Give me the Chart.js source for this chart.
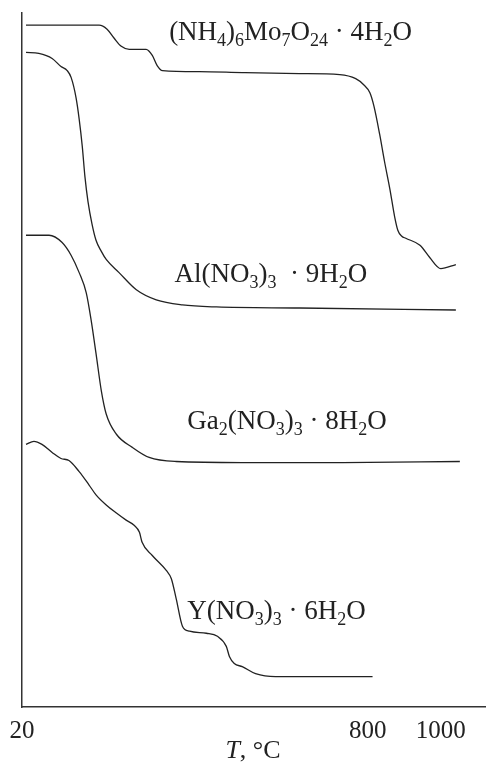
<!DOCTYPE html>
<html>
<head>
<meta charset="utf-8">
<script src="https://cdn.jsdelivr.net/npm/chart.js@4.4.1/dist/chart.umd.min.js"></script>
<style>
html,body{margin:0;padding:0;background:#fff;}
#wrap{width:486px;height:764px;position:relative;}
</style>
</head>
<body>
<div id="wrap"><canvas id="c" width="486" height="764"></canvas></div>
<script>
// Temperature axis tick values (positions on the drawn axis) and their printed labels
const xTickPositions = [20, 800, 965];
const xTickLabels = ['20', '800', '1000'];

// Curve names (with subscript markup _n)
const seriesNames = [
  '(NH_4)_6Mo_7O_24 · 4H_2O',
  'Al(NO_3)_3  · 9H_2O',
  'Ga_2(NO_3)_3 · 8H_2O',
  'Y(NO_3)_3 · 6H_2O'
];

// Curve 1: (NH4)6Mo7O24·4H2O
const moT = [29,194,212,228,244,262,300,314,325,337,420,517,646,737,773,791,805,814,827,838,850,861,868,877,886,918,940,965,999];
const moY = [675,675,671,662,654,651,651,645,635,630,629,628,627,626,622,616,608,595,567,540,513,485,472,466,464,457,445,434,438];

// Curve 2: Al(NO3)3·9H2O
const alT = [29,58,88,108,122,131,142,149,156,162,169,178,187,199,210,239,278,323,382,459,646,999];
const alY = [648,647,642,634,630,623,603,582,555,525,500,478,462,451,443,430,413,403,398,396,395,393];

// Curve 3: Ga2(NO3)3·8H2O
const gaT = [29,81,110,131,149,165,176,187,199,210,233,269,307,368,517,744,1008];
const gaY = [467,467,460,447,430,410,383,350,313,290,270,257,247,243,242,242,243];

// Curve 4: Y(NO3)3·6H2O
const yT = [29,47,65,88,108,126,149,171,187,210,233,255,273,285,291,314,346,357,368,382,398,436,461,481,488,499,517,547,592,811];
const yY = [260,263,260,252,246,244,233,220,210,200,192,185,180,173,163,150,135,127,107,80,75,73,70,60,50,43,40,33,30,30];

function pts(xs, ys){ return xs.map((x,i)=>({x:x, y:ys[i]})); }

const curveLabels = [
  {text: seriesNames[0], x: 352, y: 660},
  {text: seriesNames[1], x: 364, y: 421},
  {text: seriesNames[2], x: 393, y: 275},
  {text: seriesNames[3], x: 393, y: 87}
];

const SERIF = '"Liberation Serif", "Times New Roman", serif';

function drawRich(ctx, str, x, y, size){
  const parts = [];
  const re = /_(\d+)/g;
  let last = 0, m;
  while((m = re.exec(str))){
    if(m.index > last) parts.push({t: str.slice(last, m.index), sub:false});
    parts.push({t: m[1], sub:true});
    last = re.lastIndex;
  }
  if(last < str.length) parts.push({t: str.slice(last), sub:false});
  let cx = x;
  for(const p of parts){
    const fs = p.sub ? Math.round(size*0.68) : size;
    ctx.font = fs + 'px ' + SERIF;
    ctx.fillText(p.t, cx, p.sub ? y + size*0.22 : y);
    cx += ctx.measureText(p.t).width;
  }
}

const labelPlugin = {
  id: 'curveLabels',
  afterDatasetsDraw(chart){
    const ctx = chart.ctx;
    const xs = chart.scales.x, ys = chart.scales.y;
    ctx.save();
    ctx.fillStyle = '#222';
    ctx.textBaseline = 'alphabetic';
    ctx.textAlign = 'left';
    for(const l of curveLabels){
      drawRich(ctx, l.text, xs.getPixelForValue(l.x), ys.getPixelForValue(l.y), 27);
    }
    // axis title: italic T, then ", °C"
    ctx.font = 'italic 26px ' + SERIF;
    const w1 = ctx.measureText('T').width;
    ctx.font = '26px ' + SERIF;
    const w2 = ctx.measureText(', °C').width;
    const sx = 253 - (w1 + w2)/2;
    const by = 758;
    ctx.font = 'italic 26px ' + SERIF;
    ctx.fillText('T', sx, by);
    ctx.font = '26px ' + SERIF;
    ctx.fillText(', °C', sx + w1, by);
    ctx.restore();
  }
};

function ds(label, xs, ys){
  return {
    label: label,
    data: pts(xs, ys),
    borderColor: '#222',
    borderWidth: 1.3,
    pointRadius: 0,
    fill: false,
    cubicInterpolationMode: 'monotone',
    tension: 0.4
  };
}

new Chart(document.getElementById('c'), {
  type: 'line',
  data: {
    datasets: [
      ds(seriesNames[0], moT, moY),
      ds(seriesNames[1], alT, alY),
      ds(seriesNames[2], gaT, gaY),
      ds(seriesNames[3], yT, yY)
    ]
  },
  options: {
    responsive: false,
    animation: false,
    devicePixelRatio: 1,
    layout: {padding: {left: 22, right: 0, top: 13, bottom: 9}},
    plugins: {legend: {display: false}, tooltip: {enabled: false}},
    scales: {
      x: {
        type: 'linear',
        min: 20,
        max: 1067,
        grid: {display: false, drawTicks: false},
        border: {display: true, color: '#333', width: 1.5},
        afterBuildTicks(axis){ axis.ticks = xTickPositions.map(v => ({value: v})); },
        ticks: {
          autoSkip: false,
          maxRotation: 0,
          padding: 9,
          color: '#222',
          font: {family: SERIF, size: 25},
          callback(value){ const i = xTickPositions.indexOf(value); return i >= 0 ? xTickLabels[i] : ''; }
        }
      },
      y: {
        type: 'linear',
        min: 0,
        max: 687,
        grid: {display: false, drawTicks: false},
        border: {display: true, color: '#333', width: 1.5},
        ticks: {display: false}
      }
    }
  },
  plugins: [labelPlugin]
});
</script>
</body>
</html>
